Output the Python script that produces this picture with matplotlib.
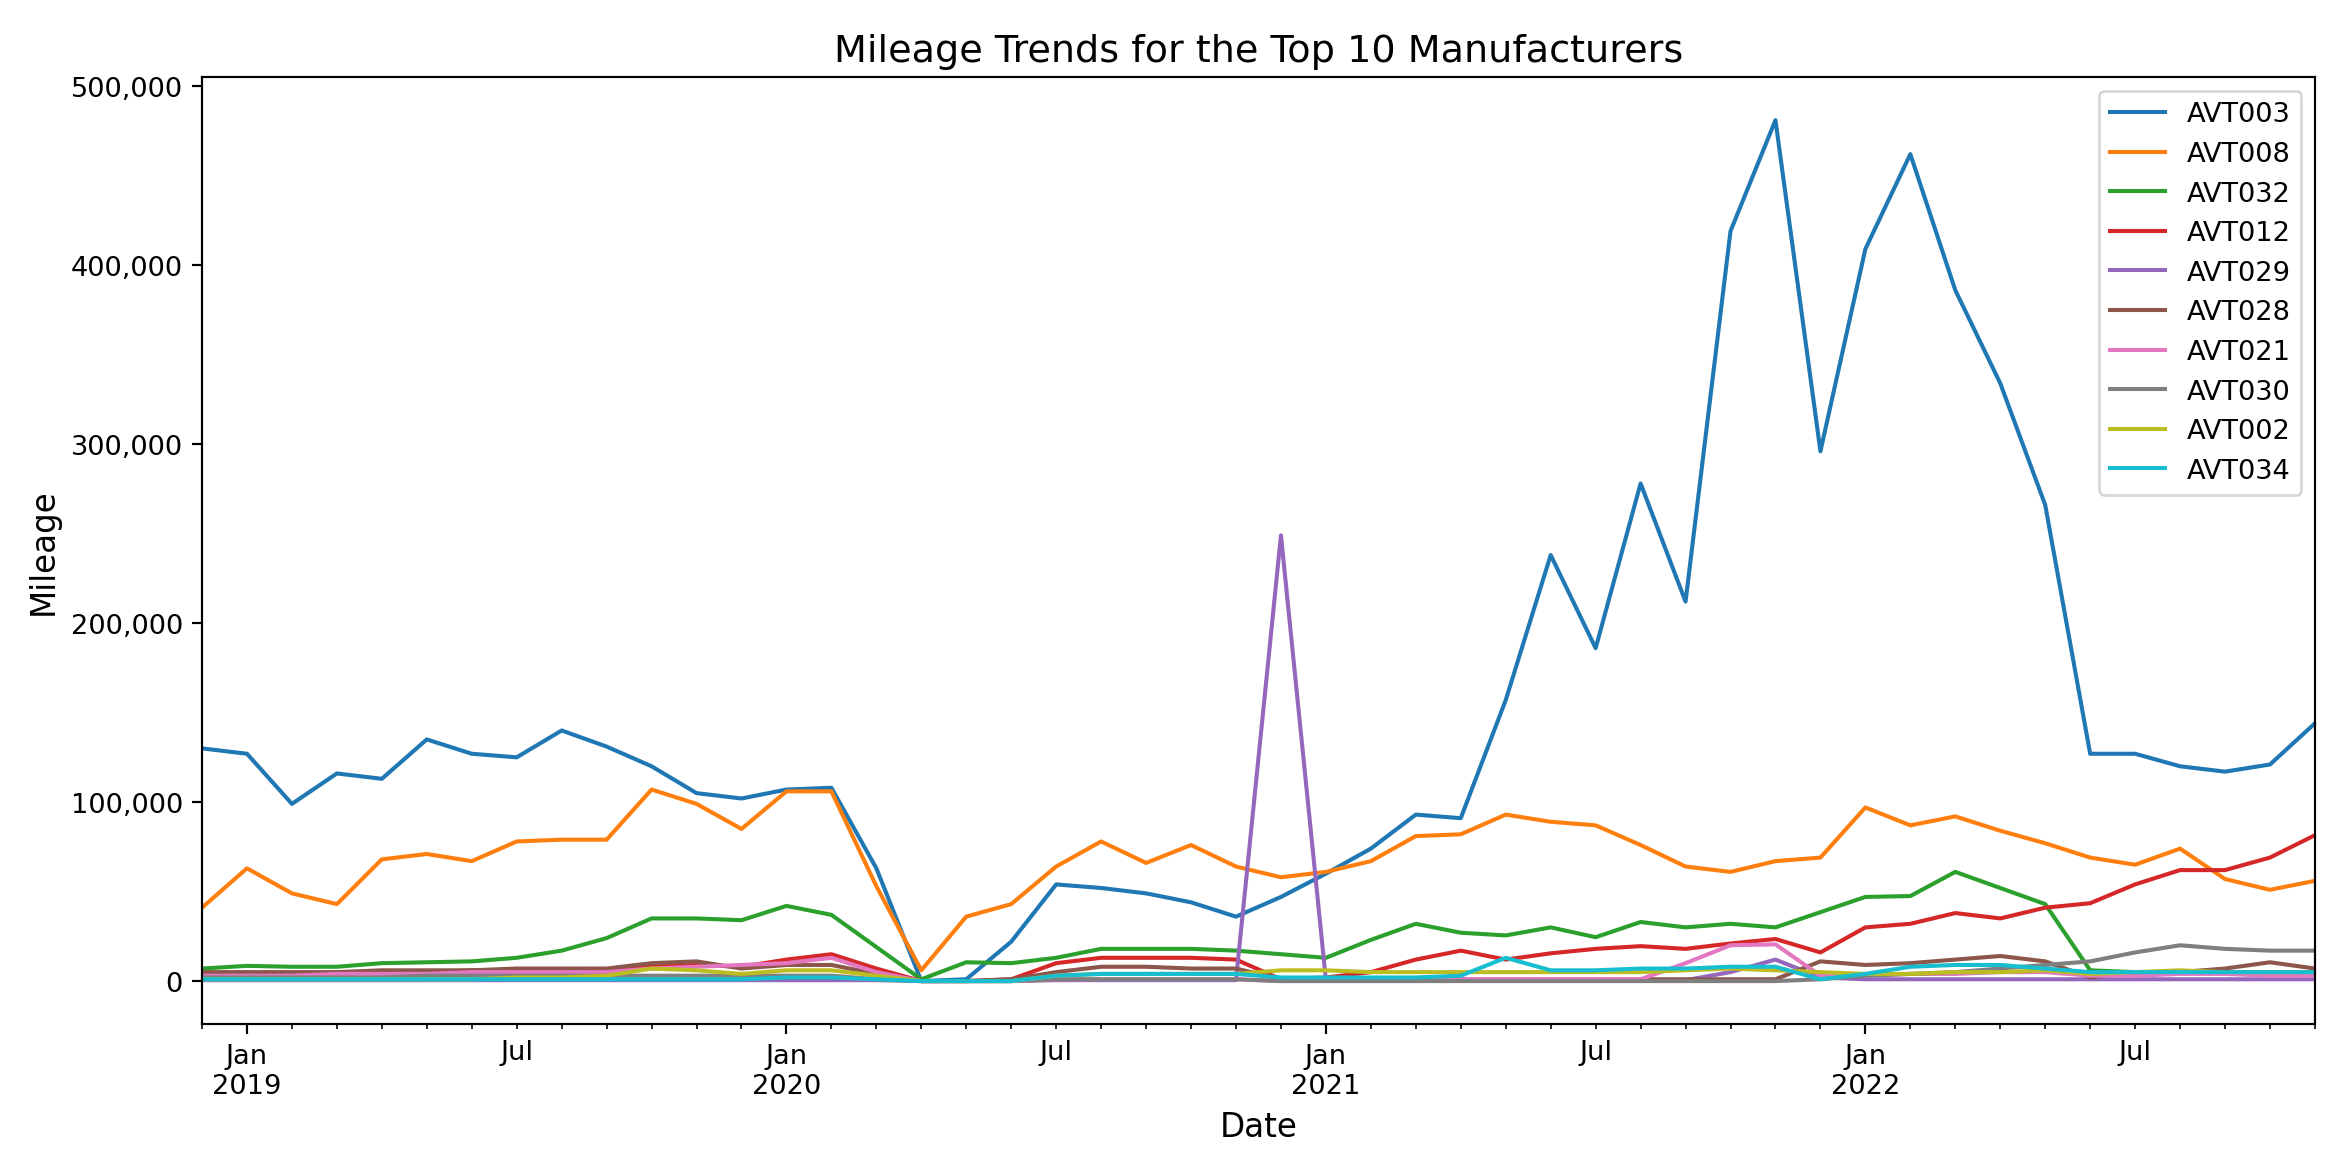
import pandas as pd
import matplotlib
matplotlib.use("Agg")
import matplotlib.pyplot as plt
from matplotlib.ticker import FuncFormatter

# monthly mileage (thousands), Dec 2018 .. Nov 2022
months = pd.period_range("2018-12", "2022-11", freq="M")

avt003 = [130, 127, 99, 116, 113, 135, 127, 125, 140, 131, 120, 105, 102, 107, 108, 63,
          0, 1, 22, 54, 52, 49, 44, 36, 47, 60, 74, 93, 91, 157, 238, 186,
          278, 212, 419, 481, 296, 409, 462, 386, 334, 266, 127, 127, 120, 117, 121, 144]
avt008 = [41, 63, 49, 43, 68, 71, 67, 78, 79, 79, 107, 99, 85, 106, 106, 53,
          6, 36, 43, 64, 78, 66, 76, 64, 58, 61, 67, 81, 82, 93, 89, 87,
          76, 64, 61, 67, 69, 97, 87, 92, 84, 77, 69, 65, 74, 57, 51, 56]
avt032 = [7, 8.5, 8, 8, 10, 10.5, 11, 13, 17, 24, 35, 35, 34, 42, 37, 19,
          1, 10.5, 10, 13, 18, 18, 18, 17, 15, 13, 23, 32, 27, 25.5, 30, 24.5,
          33, 30, 32, 30, 38.5, 47, 47.5, 61, 52, 43, 6, 5, 5, 5, 5, 5]
avt012 = [4, 4, 4, 4, 5, 5, 6, 6, 6, 6, 8, 9, 8, 12, 15, 7,
          0, 0, 1, 10, 13, 13, 13, 12, 1, 2, 5, 12, 17, 12, 15.5, 18,
          19.5, 18, 21, 23.5, 16, 30, 32, 38, 35, 41, 43.5, 54, 62, 62, 69, 81.5]
avt029 = [0.5, 0.5, 0.5, 0.5, 0.5, 0.5, 0.5, 0.5, 0.5, 0.5, 0.5, 0.5, 0.5, 0.5, 0.5, 0.5,
          0, 0, 0, 0.5, 0.5, 0.5, 0.5, 0.5, 249, 0.5, 0.5, 0.5, 0.5, 0.5, 0.5, 0.5,
          0.5, 0.5, 5, 12, 2, 1, 1, 1, 1, 1, 1, 1, 1, 1, 1, 1]
avt028 = [5, 5, 5, 5, 6, 6, 6, 7, 7, 7, 10, 11, 7, 9, 9, 4,
          0, 0, 1, 5, 8, 8, 7, 7, 1, 1, 1, 1, 1, 1, 1, 1,
          1, 1, 1, 1, 11, 9, 10, 12, 14, 11, 2, 5, 5, 7, 10.5, 7]
avt021 = [3, 3, 3, 4, 4, 4, 5, 5, 5, 5, 7, 8, 9, 10, 13, 5,
          0, 0, 0, 1, 1, 1, 1, 1, 0, 1, 1, 1, 1, 1, 1, 1,
          1, 10, 20, 20.5, 3, 3, 4, 4, 5, 5, 3, 3, 4, 4, 3, 3]
avt030 = [2, 2, 2, 2, 2, 3, 3, 3, 3, 3, 3, 3, 3, 3, 3, 1,
          0, 0, 0, 1, 1, 1, 1, 1, 0, 0, 0, 0, 0, 0, 0, 0,
          0, 0, 0, 0, 1, 3, 4, 5, 7, 9, 11, 16, 20, 18, 17, 17]
avt002 = [1, 1, 1, 1, 1, 1, 1, 2, 2, 3, 7, 6, 4, 6, 6, 3,
          0, 0, 0, 3, 4, 4, 4, 4, 6, 6, 5, 5, 5, 5, 5, 5,
          5, 6, 7, 6, 5, 4, 4, 5, 5, 6, 4, 5, 6, 5, 5, 5]
avt034 = [1, 1, 1, 1, 1, 1, 1, 1, 1, 1, 1, 1, 1, 2, 2, 1,
          0, 0, 0, 3, 4, 4, 4, 4, 2, 2, 2, 2, 3, 13, 6, 6,
          7, 7, 8, 8, 1, 4, 8, 9, 9, 7, 5, 5, 5, 5, 5, 5]

names = ["AVT003", "AVT008", "AVT032", "AVT012", "AVT029",
         "AVT028", "AVT021", "AVT030", "AVT002", "AVT034"]
series = [avt003, avt008, avt032, avt012, avt029,
          avt028, avt021, avt030, avt002, avt034]

df = pd.DataFrame({n: [v * 1000 for v in s] for n, s in zip(names, series)}, index=months)

fig, ax = plt.subplots(figsize=(12, 5.91), dpi=195.75)
df.plot(ax=ax)
fig.subplots_adjust(left=0.086, right=0.9855, bottom=0.114, top=0.9326)

ax.set_title("Mileage Trends for the Top 10 Manufacturers", fontsize=14)
ax.set_xlabel("Date", fontsize=12)
ax.set_ylabel("Mileage", fontsize=12)
ax.yaxis.set_major_formatter(FuncFormatter(lambda x, p: f"{x:,.0f}"))
ax.legend(loc="upper right")

plt.savefig("out.png", dpi=195.75)
